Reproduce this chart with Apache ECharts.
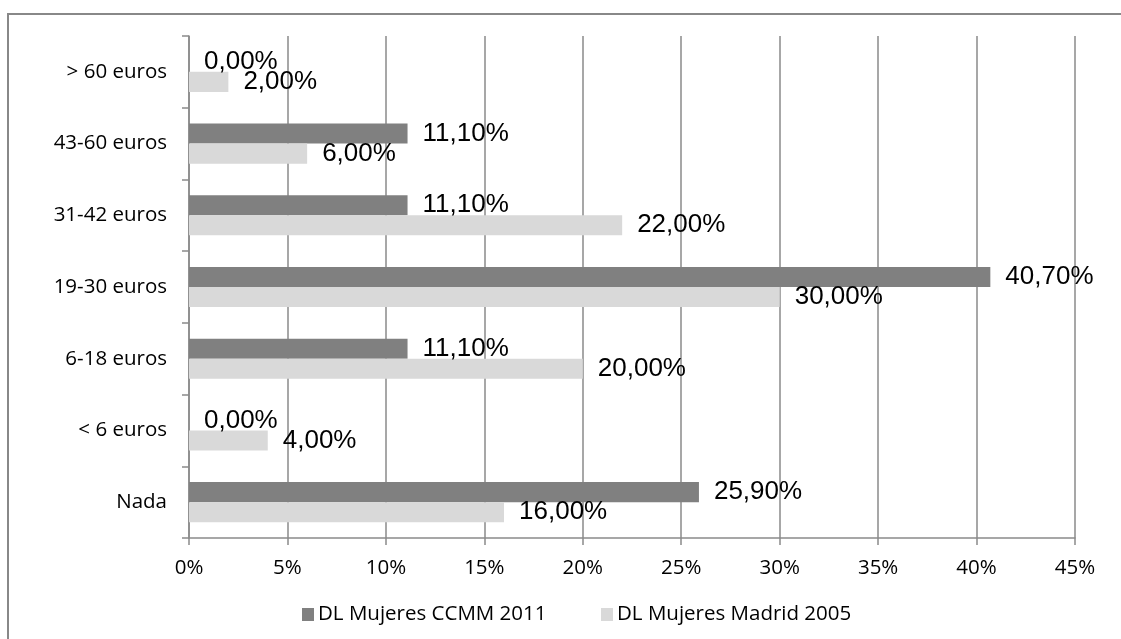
<!DOCTYPE html>
<html>
<head>
<meta charset="utf-8">
<script src="https://cdn.jsdelivr.net/npm/echarts@6/dist/echarts.min.js"></script>
<style>
html,body{margin:0;padding:0;background:#fff;}
#c{width:1121px;height:639px;}
</style>
</head>
<body>
<div id="c"></div>
<script>
var categories = ['Nada', '< 6 euros', '6-18 euros', '19-30 euros', '31-42 euros', '43-60 euros', '> 60 euros'];
var seriesCCMM2011 = [25.9, 0, 11.1, 40.7, 11.1, 11.1, 0];
var seriesMadrid2005 = [16, 4, 20, 30, 22, 6, 2];
var seriesNames = ['DL Mujeres CCMM 2011', 'DL Mujeres Madrid 2005'];
var xTicks = [0, 5, 10, 15, 20, 25, 30, 35, 40, 45];

var gridColor = '#8a8a8a';
var chart = echarts.init(document.getElementById('c'));

function fmt(v){ return v.toFixed(2).replace('.', ',') + '%'; }

var labelCfg = {
  show: true,
  position: 'right',
  distance: 15,
  color: '#000',
  fontFamily: 'Liberation Sans, Arial, sans-serif',
  fontSize: 26,
  formatter: function(p){ return fmt(p.value); }
};

chart.setOption({
  animation: false,
  backgroundColor: '#fff',
  graphic: [{
    type: 'rect',
    shape: {x: 8, y: 14, width: 1200, height: 700},
    style: {fill: 'none', stroke: '#888', lineWidth: 2},
    silent: true
  }],
  grid: {left: 189, right: 46, top: 36, bottom: 101, containLabel: false},
  legend: [{
    left: 297, top: 599,
    itemWidth: 12, itemHeight: 13,
    itemGap: 6,
    icon: 'rect',
    data: [seriesNames[0]],
    textStyle: {fontFamily: 'Open Sans, sans-serif', fontSize: 20.5, color: '#000', padding: [0,0,0,-1]}
  }, {
    left: 596, top: 599,
    itemWidth: 12, itemHeight: 13,
    icon: 'rect',
    data: [seriesNames[1]],
    textStyle: {fontFamily: 'Open Sans, sans-serif', fontSize: 20.5, color: '#000', padding: [0,0,0,-1]}
  }],
  xAxis: {
    type: 'value',
    min: xTicks[0],
    max: xTicks[xTicks.length - 1],
    interval: 5,
    axisLine: {show: true, lineStyle: {color: gridColor, width: 1.5}},
    axisTick: {show: true, length: 7, lineStyle: {color: gridColor, width: 1.5}},
    axisLabel: {
      margin: 20,
      color: '#000',
      fontFamily: 'Open Sans, sans-serif',
      fontSize: 20.5,
      formatter: function(v){ return v + '%'; }
    },
    splitLine: {show: true, lineStyle: {color: gridColor, width: 1.5}}
  },
  yAxis: {
    type: 'category',
    data: categories,
    axisLine: {show: true, lineStyle: {color: gridColor, width: 1.5}},
    axisTick: {show: true, length: 7, lineStyle: {color: gridColor, width: 1.5}},
    axisLabel: {
      margin: 22,
      color: '#000',
      fontFamily: 'Open Sans, sans-serif',
      fontSize: 20.5
    },
    splitLine: {show: false}
  },
  series: [{
    name: seriesNames[0],
    type: 'bar',
    data: seriesCCMM2011,
    barGap: '0%',
    barCategoryGap: '44%',
    itemStyle: {color: '#808080'},
    label: labelCfg
  }, {
    name: seriesNames[1],
    type: 'bar',
    data: seriesMadrid2005,
    barGap: '0%',
    barCategoryGap: '44%',
    itemStyle: {color: '#d9d9d9'},
    label: labelCfg
  }]
});
</script>
</body>
</html>
